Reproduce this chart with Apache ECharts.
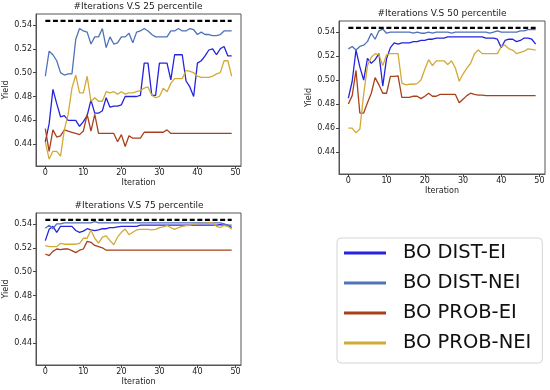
<!DOCTYPE html>
<html>
<head>
<meta charset="utf-8">
<script src="https://cdn.jsdelivr.net/npm/echarts@6/dist/echarts.min.js"></script>
<style>html,body{margin:0;padding:0;background:#fff}#c{width:550px;height:390px}</style>
</head>
<body>
<div id="c"></div>
<script>
// ---- data ----
const iterations = Array.from({length: 50}, (_, i) => i);
const seriesNames = ['BO DIST-EI', 'BO DIST-NEI', 'BO PROB-EI', 'BO PROB-NEI'];
const titles = ['#Iterations V.S 25 percentile', '#Iterations V.S 50 percentile', '#Iterations V.S 75 percentile'];
const yTicks = [0.44, 0.46, 0.48, 0.50, 0.52, 0.54];
const xTicks = [0, 10, 20, 30, 40, 50];
const bestYield = 0.5434;

// 25 percentile
const distEI25 = [0.442,0.457,0.486,0.474,0.463,0.464,0.460,0.460,0.460,0.455,0.459,0.464,0.477,0.466,0.466,0.468,0.479,0.471,0.472,0.472,0.473,0.480,0.480,0.480,0.480,0.481,0.508,0.508,0.481,0.481,0.508,0.508,0.508,0.494,0.515,0.515,0.515,0.493,0.488,0.480,0.508,0.510,0.514,0.519,0.520,0.515,0.520,0.522,0.514,0.514];
const distNEI25 = [0.497,0.518,0.515,0.510,0.500,0.498,0.499,0.499,0.528,0.537,0.535,0.534,0.524,0.530,0.530,0.537,0.521,0.530,0.524,0.525,0.530,0.530,0.533,0.525,0.534,0.535,0.537,0.535,0.532,0.530,0.530,0.530,0.530,0.535,0.535,0.537,0.535,0.535,0.537,0.536,0.532,0.534,0.532,0.532,0.531,0.531,0.532,0.535,0.535,0.535];
const probEI25 = [0.453,0.434,0.452,0.446,0.447,0.452,0.451,0.450,0.449,0.448,0.451,0.465,0.451,0.465,0.449,0.449,0.449,0.449,0.449,0.442,0.448,0.438,0.447,0.445,0.445,0.445,0.450,0.450,0.450,0.450,0.450,0.450,0.452,0.449,0.449,0.449,0.449,0.449,0.449,0.449,0.449,0.449,0.449,0.449,0.449,0.449,0.449,0.449,0.449,0.449];
const probNEI25 = [0.442,0.4275,0.434,0.434,0.430,0.452,0.465,0.487,0.498,0.483,0.483,0.497,0.476,0.479,0.476,0.476,0.484,0.483,0.484,0.482,0.484,0.482,0.483,0.483,0.484,0.485,0.487,0.488,0.481,0.479,0.480,0.487,0.484,0.491,0.495,0.495,0.495,0.502,0.501,0.500,0.497,0.496,0.496,0.496,0.497,0.499,0.500,0.510,0.510,0.497];

// 50 percentile
const distEI50 = [0.485,0.499,0.525,0.511,0.500,0.518,0.514,0.517,0.522,0.495,0.518,0.527,0.531,0.530,0.531,0.531,0.531,0.532,0.532,0.533,0.533,0.534,0.534,0.535,0.535,0.535,0.536,0.536,0.536,0.536,0.536,0.536,0.536,0.536,0.536,0.536,0.535,0.535,0.535,0.534,0.527,0.533,0.534,0.534,0.532,0.533,0.535,0.535,0.534,0.530];
const distNEI50 = [0.526,0.528,0.525,0.528,0.529,0.532,0.539,0.534,0.541,0.5425,0.539,0.540,0.540,0.540,0.540,0.540,0.540,0.539,0.540,0.539,0.539,0.540,0.539,0.540,0.540,0.540,0.540,0.539,0.540,0.540,0.540,0.540,0.540,0.540,0.540,0.540,0.540,0.539,0.540,0.541,0.540,0.540,0.540,0.540,0.540,0.541,0.541,0.542,0.542,0.542];
const probEI50 = [0.480,0.487,0.508,0.4725,0.4725,0.481,0.489,0.502,0.496,0.489,0.489,0.503,0.503,0.5035,0.4855,0.4855,0.4855,0.4865,0.4865,0.4845,0.4865,0.489,0.4865,0.4865,0.488,0.488,0.488,0.488,0.488,0.481,0.484,0.487,0.489,0.488,0.4875,0.4875,0.487,0.487,0.487,0.487,0.487,0.487,0.487,0.487,0.487,0.487,0.487,0.487,0.487,0.487];
const probNEI50 = [0.460,0.460,0.456,0.459,0.488,0.512,0.519,0.522,0.521,0.512,0.521,0.522,0.522,0.522,0.4975,0.496,0.4965,0.4965,0.497,0.500,0.509,0.517,0.512,0.516,0.516,0.516,0.513,0.516,0.510,0.499,0.505,0.510,0.514,0.522,0.525,0.522,0.522,0.522,0.522,0.522,0.528,0.529,0.526,0.525,0.522,0.523,0.524,0.526,0.5255,0.525];

// 75 percentile
const distEI75 = [0.526,0.5355,0.538,0.533,0.538,0.538,0.538,0.538,0.5345,0.533,0.534,0.536,0.535,0.5345,0.535,0.536,0.536,0.537,0.537,0.5375,0.538,0.538,0.538,0.538,0.538,0.539,0.539,0.539,0.539,0.539,0.539,0.539,0.539,0.539,0.539,0.539,0.539,0.539,0.539,0.539,0.539,0.539,0.539,0.539,0.539,0.539,0.5395,0.539,0.539,0.537];
const distNEI75 = [0.5365,0.539,0.536,0.540,0.540,0.541,0.541,0.541,0.541,0.541,0.541,0.541,0.541,0.542,0.541,0.541,0.541,0.541,0.541,0.541,0.541,0.541,0.541,0.541,0.541,0.541,0.541,0.541,0.541,0.541,0.541,0.541,0.541,0.541,0.541,0.541,0.541,0.541,0.541,0.541,0.541,0.541,0.541,0.541,0.541,0.541,0.541,0.540,0.539,0.539];
const probEI75 = [0.5148,0.5135,0.517,0.519,0.5185,0.519,0.519,0.5176,0.516,0.518,0.519,0.5254,0.5246,0.522,0.521,0.520,0.518,0.518,0.518,0.518,0.518,0.518,0.518,0.518,0.518,0.518,0.518,0.518,0.518,0.518,0.518,0.518,0.518,0.518,0.518,0.518,0.518,0.518,0.518,0.518,0.518,0.518,0.518,0.518,0.518,0.518,0.518,0.518,0.518,0.518];
const probNEI75 = [0.5218,0.521,0.521,0.521,0.5238,0.523,0.523,0.523,0.523,0.5238,0.528,0.528,0.535,0.528,0.524,0.529,0.530,0.526,0.5226,0.529,0.533,0.5357,0.531,0.533,0.535,0.5355,0.5355,0.5355,0.535,0.5355,0.537,0.5375,0.5387,0.537,0.5355,0.537,0.538,0.5387,0.5387,0.540,0.540,0.5405,0.5405,0.541,0.541,0.538,0.537,0.5387,0.538,0.5355];

const panels = [
  [distEI25, distNEI25, probEI25, probNEI25],
  [distEI50, distNEI50, probEI50, probNEI50],
  [distEI75, distNEI75, probEI75, probNEI75]
];

// ---- styling / layout ----
const colors = ['#2424dc', '#4f72b8', '#a8401c', '#d2aa36'];
const FONT = 'DejaVu Sans';
const grids = [
  {left: 36, top: 14, width: 205, height: 152},
  {left: 339, top: 21, width: 206, height: 153},
  {left: 36, top: 213, width: 205, height: 152}
];
const titlePos = [{x: 138, y: 2}, {x: 442, y: 9.5}, {x: 139, y: 201}];
const yNameGap = [21, 26, 21];

const chart = echarts.init(document.getElementById('c'), null, {renderer: 'canvas'});

const option = {
  animation: false,
  backgroundColor: '#fff',
  title: titles.map((t, k) => ({
    text: t, left: titlePos[k].x, top: titlePos[k].y, textAlign: 'center', padding: 0,
    textStyle: {fontSize: 9, fontWeight: 'normal', color: '#1a1a1a', fontFamily: FONT}
  })),
  grid: grids.map(g => Object.assign({show: true, borderColor: '#555', borderWidth: 1, backgroundColor: 'transparent'}, g)),
  xAxis: grids.map((g, k) => ({
    type: 'value', gridIndex: k, min: -2.45, max: 51.45,
    name: 'Iteration', nameLocation: 'middle', nameGap: 13,
    nameTextStyle: {fontSize: 8, color: '#222', fontFamily: FONT},
    axisLine: {show: true, onZero: false, lineStyle: {color: '#555', width: 1}},
    axisTick: {show: true, length: 3, customValues: xTicks, lineStyle: {color: '#444'}},
    axisLabel: {customValues: xTicks, fontSize: 8, color: '#222', fontFamily: FONT, margin: 3},
    splitLine: {show: false}
  })),
  yAxis: grids.map((g, k) => ({
    type: 'value', gridIndex: k, min: 0.4217, max: 0.5492,
    name: 'Yield', nameLocation: 'middle', nameGap: yNameGap[k],
    nameTextStyle: {fontSize: 8, color: '#222', fontFamily: FONT},
    axisLine: {show: true, onZero: false, lineStyle: {color: '#555', width: 1}},
    axisTick: {show: true, length: 3, customValues: yTicks, lineStyle: {color: '#444'}},
    axisLabel: {customValues: yTicks, fontSize: 8, color: '#222', fontFamily: FONT, margin: 4,
      formatter: v => v.toFixed(2)},
    splitLine: {show: false}
  })),
  legend: {
    orient: 'vertical', left: 337, top: 238,
    data: seriesNames, icon: 'rect', itemWidth: 42, itemHeight: 3, itemGap: 10,
    textStyle: {fontSize: 19.5, fontFamily: FONT, color: '#111', lineHeight: 20, padding: [0, 0, 0, 12]},
    borderColor: '#d4d4d4', borderWidth: 1, borderRadius: 4,
    padding: [5, 11, 10, 7], backgroundColor: '#fff',
    selectedMode: false
  },
  series: []
};

panels.forEach((panel, k) => {
  panel.forEach((vals, s) => {
    option.series.push({
      type: 'line', name: seriesNames[s], xAxisIndex: k, yAxisIndex: k,
      data: iterations.map((x, i) => [x, vals[i]]),
      showSymbol: false, symbol: 'none',
      lineStyle: {color: colors[s], width: 1.3},
      itemStyle: {color: colors[s]},
      z: 2 + s
    });
  });
  option.series.push({
    type: 'line', xAxisIndex: k, yAxisIndex: k,
    data: [[iterations[0], bestYield], [iterations[iterations.length - 1], bestYield]],
    showSymbol: false, symbol: 'none',
    lineStyle: {color: '#000', width: 2.3, type: [5, 2.6]},
    z: 10
  });
});

chart.setOption(option);
</script>
</body>
</html>
